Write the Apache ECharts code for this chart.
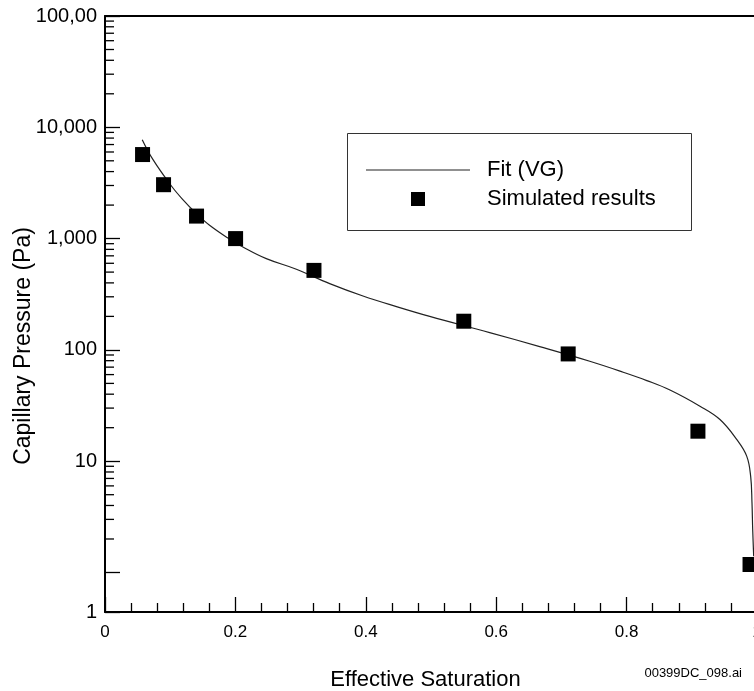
<!DOCTYPE html>
<html>
<head>
<meta charset="utf-8">
<script src="https://cdn.jsdelivr.net/npm/echarts@6/dist/echarts.min.js"></script>
<style>
html,body{margin:0;padding:0;background:#fff;}
#chart{width:754px;height:691px;}
</style>
</head>
<body>
<div id="chart"></div>
<script>
// ---- data ----
const fitSat = [0.0571, 0.0734, 0.1016, 0.1194, 0.140, 0.1604, 0.1885, 0.2115, 0.2474, 0.2935, 0.3446, 0.3957, 0.447, 0.498, 0.590, 0.6667, 0.7435, 0.7948, 0.831, 0.8665, 0.9125, 0.9432, 0.9688, 0.9842, 0.9903, 0.9923, 0.9934, 0.9949];
const fitPc  = [7745, 5150, 2985, 2240, 1680, 1318, 1012, 841, 661, 531, 394, 305, 245, 200, 143, 107, 79, 63, 53, 43.6, 31.2, 23.7, 15.7, 11.1, 7.3, 4.25, 2.43, 1.40];
const simSat = [0.0576, 0.0898, 0.1404, 0.2003, 0.3205, 0.5503, 0.7104, 0.9094, 0.9893];
const simPc  = [5690, 3050, 1593, 1000, 518, 181, 92, 18.6, 1.18];
const yTickLabels = ['1', '10', '100', '1,000', '10,000', '100,00'];
const yMinorTicks = [2,3,4,5,6,7,8,9, 20,30,40,50,60,70,80,90, 200,300,400,500,600,700,800,900, 2000,3000,4000,5000,6000,7000,8000,9000, 20000,30000,40000,50000,60000,70000,80000,90000];
const seriesNames = ['Fit (VG)', 'Simulated results'];
const xTitle = 'Effective Saturation';
const yTitle = 'Capillary Pressure (Pa)';
const fileTag = '00399DC_098.ai';

const FONT = '"Liberation Sans", Arial, Helvetica, sans-serif';
const yMin = 0.4416, yMax = 100000;

const chart = echarts.init(document.getElementById('chart'), null, {renderer: 'canvas'});
const gridBox = {left: 105, top: 16, right: -3, bottom: 79, containLabel: false, outerBoundsMode: 'none'};

const option = {
  backgroundColor: '#fff',
  animation: false,
  grid: [Object.assign({}, gridBox)],
  xAxis: [{
    type: 'value', gridIndex: 0, min: 0, max: 1, interval: 0.2,
    name: xTitle, nameLocation: 'middle', nameGap: 57, nameMoveOverlap: false,
    nameTextStyle: {fontFamily: FONT, fontSize: 22, color: '#000', padding: [0, 11, 0, 0]},
    axisLine: {show: true, onZero: false, lineStyle: {color: '#000', width: 2}},
    axisTick: {show: true, inside: true, length: 15, lineStyle: {color: '#000', width: 1.3}},
    minorTick: {show: true, splitNumber: 5, length: 9, lineStyle: {color: '#000', width: 1.3}},
    axisLabel: {fontFamily: FONT, fontSize: 17, color: '#000', margin: 12},
    splitLine: {show: false}, minorSplitLine: {show: false}
  }, {
    type: 'value', gridIndex: 0, min: 0, max: 1, position: 'top',
    axisLine: {show: true, onZero: false, lineStyle: {color: '#000', width: 2}},
    axisTick: {show: false}, axisLabel: {show: false}, splitLine: {show: false}
  }],
  yAxis: [{
    type: 'log', logBase: 10, gridIndex: 0, min: yMin, max: yMax, splitNumber: 5,
    name: yTitle, nameLocation: 'middle', nameGap: 70, nameMoveOverlap: false,
    nameTextStyle: {fontFamily: FONT, fontSize: 23, color: '#000', padding: [0, 64, 0, 0]},
    axisLine: {show: true, onZero: false, lineStyle: {color: '#000', width: 2}},
    axisTick: {show: true, inside: true, length: 15, lineStyle: {color: '#000', width: 1.3}},
    axisLabel: {
      fontFamily: FONT, fontSize: 20, color: '#000', margin: 8,
      formatter: function (v) {
        if (Math.abs(v - 1) < 1e-9) return '';
        const i = Math.max(0, Math.round(Math.log10(v)));
        return yTickLabels[i] || '';
      }
    },
    splitLine: {show: false}
  }],
  legend: {
    orient: 'vertical', left: 366, top: 159, padding: 0,
    itemWidth: 104, itemHeight: 14, itemGap: 7,
    selectedMode: false, symbolKeepAspect: true,
    textStyle: {fontFamily: FONT, fontSize: 22, lineHeight: 22, color: '#000', padding: [0, 0, 0, 12]},
    data: [
      {name: seriesNames[0], icon: 'path://M0,0L104,0L104,1.2L0,1.2Z', itemStyle: {color: '#222', borderWidth: 0}},
      {name: seriesNames[1], icon: 'path://M0,0L14,0L14,14L0,14Z', itemStyle: {color: '#000', borderWidth: 0}}
    ]
  },
  series: [{
    name: seriesNames[0], type: 'line', xAxisIndex: 0, yAxisIndex: 0,
    data: fitSat.map((s, i) => [s, fitPc[i]]),
    symbol: 'none', showSymbol: false, smooth: 0.4,
    lineStyle: {color: '#222', width: 1.2}, itemStyle: {color: '#222'}, z: 2
  }, {
    name: seriesNames[1], type: 'scatter', xAxisIndex: 0, yAxisIndex: 0,
    data: simSat.map((s, i) => [s, simPc[i]]),
    symbol: 'rect', symbolSize: 15,
    itemStyle: {color: '#000', opacity: 1}, z: 3
  }, {
    // minor ticks of the logarithmic y axis, placed through the axis scale
    name: 'yMinorTicks', type: 'custom', xAxisIndex: 0, yAxisIndex: 0,
    data: yMinorTicks.map(v => [0, v]),
    clip: false, silent: true, z: 4,
    renderItem: function (params, api) {
      const p = api.coord([api.value(0), api.value(1)]);
      return {
        type: 'line',
        shape: {x1: p[0], y1: p[1], x2: p[0] + 9, y2: p[1]},
        style: {stroke: '#000', lineWidth: 1.3}
      };
    }
  }],
  graphic: [{
    type: 'rect', left: 345, top: 131, z: 0,
    shape: {width: 344, height: 97},
    style: {fill: 'none', stroke: '#333', lineWidth: 1}
  }, {
    type: 'text', right: 12, top: 667,
    style: {text: fileTag, font: '13px ' + FONT, fill: '#000'}
  }]
};
chart.setOption(option);
</script>
</body>
</html>
